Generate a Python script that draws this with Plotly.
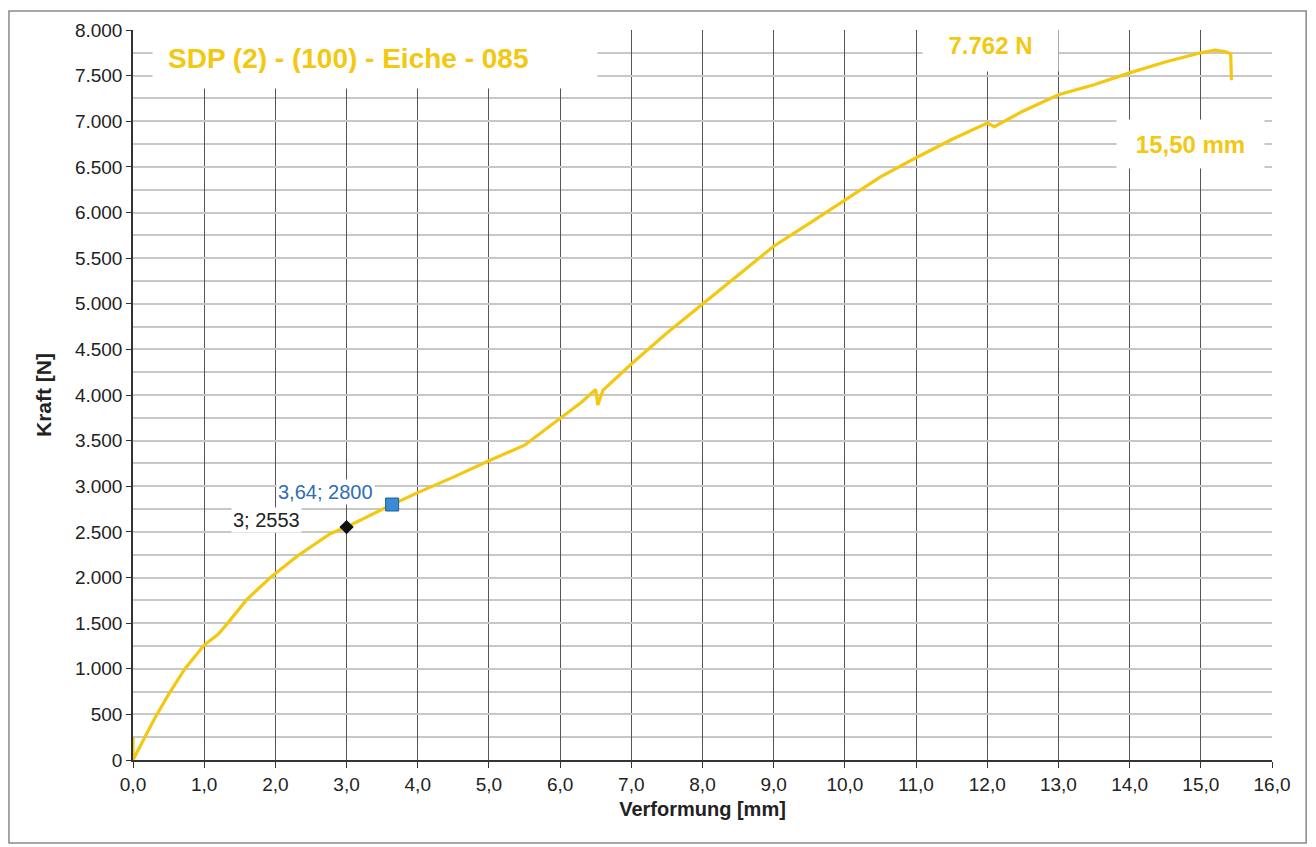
import plotly.graph_objects as go

# Curve data (Verformung [mm], Kraft [N])
verformung = [0.0, 0.0, 0.1, 0.3, 0.5, 0.73, 1.0, 1.2, 1.33, 1.6, 1.93, 2.3, 2.77, 3.0, 3.64,
              4.0, 4.5, 5.0, 5.5, 6.0, 6.3, 6.5, 6.53, 6.6, 7.0, 7.5, 8.0, 8.5, 9.0, 9.5,
              10.0, 10.5, 11.0, 11.5, 12.0, 12.1, 12.5, 13.0, 13.5, 14.0, 14.5, 15.0,
              15.2, 15.35, 15.42, 15.43]
kraft = [250, 0, 150, 450, 720, 1000, 1260, 1380, 1500, 1760, 2000, 2230, 2480, 2553, 2800,
         2930, 3100, 3280, 3450, 3740, 3920, 4060, 3890, 4050, 4340, 4680, 5000, 5310, 5630, 5880,
         6140, 6390, 6600, 6800, 6980, 6940, 7110, 7290, 7400, 7530, 7650, 7750,
         7780, 7762, 7740, 7450]

point_black = (3.0, 2553)
point_blue = (3.64, 2800)

title_text = "SDP (2) - (100) - Eiche - 085"
fmax_text = "7.762 N"
smax_text = "15,50 mm"

x_ticks = [i for i in range(0, 17)]
y_ticks = [i * 500 for i in range(0, 17)]

YELLOW = "#F2C811"
FONT = "Liberation Sans, Arial, sans-serif"

fig = go.Figure()
fig.add_trace(go.Scatter(x=verformung, y=kraft, mode="lines",
                         line=dict(color=YELLOW, width=3.2), hoverinfo="skip",
                         showlegend=False))
fig.add_trace(go.Scatter(x=[point_black[0]], y=[point_black[1]], mode="markers",
                         marker=dict(symbol="diamond", size=11, color="#111111"),
                         showlegend=False))
fig.add_trace(go.Scatter(x=[point_blue[0]], y=[point_blue[1]], mode="markers",
                         marker=dict(symbol="square", size=13, color="#3A8AD4",
                                     line=dict(color="#1F5FA0", width=1)),
                         showlegend=False))

fig.update_layout(
    width=1316, height=847,
    margin=dict(l=125, r=52, t=22, b=95),
    paper_bgcolor="white", plot_bgcolor="white",
    separators=",.",
    font=dict(family=FONT, size=19, color="#222222"),
    xaxis=dict(range=[0, 16], tickvals=x_ticks, tickformat=".1f",
               showgrid=True, gridcolor="#555555", gridwidth=1.3,
               showline=True, linecolor="#333333", linewidth=1.5,
               ticks="outside", ticklen=6, tickcolor="#333333",
               zeroline=False, tickfont=dict(size=19),
               title=dict(text="<b>Verformung [mm]</b>", font=dict(size=20), standoff=8)),
    yaxis=dict(range=[0, 8000], tickvals=y_ticks, tickformat=",d",
               showgrid=True, gridcolor="#c8c8c8", gridwidth=1.5,
               minor=dict(dtick=250, showgrid=True, gridcolor="#c8c8c8", gridwidth=1.5),
               showline=True, linecolor="#333333", linewidth=1.5,
               ticks="outside", ticklen=5, tickcolor="#333333",
               zeroline=False, tickfont=dict(size=19),
               title=dict(text="<b>Kraft [N]</b>", font=dict(size=21), standoff=18)),
)

fig.add_annotation(x=3.40, y=7690, text=f"<b>{title_text}</b>", showarrow=False,
                   font=dict(size=28, color=YELLOW, family=FONT), align="left",
                   bgcolor="white", width=414, height=30, borderpad=15,
                   xanchor="center", yanchor="middle")
fig.add_annotation(x=12.05, y=7840, text=f"<b>{fmax_text}</b>", showarrow=False,
                   font=dict(size=24, color=YELLOW, family=FONT),
                   bgcolor="white", width=133, height=50, xanchor="center", yanchor="middle")
fig.add_annotation(x=14.85, y=6750, text=f"<b>{smax_text}</b>", showarrow=False,
                   font=dict(size=24, color=YELLOW, family=FONT),
                   bgcolor="white", width=145, height=46, xanchor="center", yanchor="middle")
fig.add_annotation(x=2.70, y=2940,
                   text=f"{point_blue[0]:.2f}".replace(".", ",") + f"; {point_blue[1]}",
                   showarrow=False, font=dict(size=20, color="#2F6DB5", family=FONT),
                   bgcolor="white", xanchor="center", yanchor="middle")
fig.add_annotation(x=1.88, y=2630, text=f"{int(point_black[0])}; {point_black[1]}",
                   showarrow=False, font=dict(size=20, color="#222222", family=FONT),
                   bgcolor="white", xanchor="center", yanchor="middle")

# outer frame around the chart
fig.add_shape(type="rect", xref="paper", yref="paper",
              x0=-0.1089, x1=1.030, y0=-0.1137, y1=1.026,
              line=dict(color="#8a8a8a", width=1.5), layer="below")

fig.write_html("out.html")
